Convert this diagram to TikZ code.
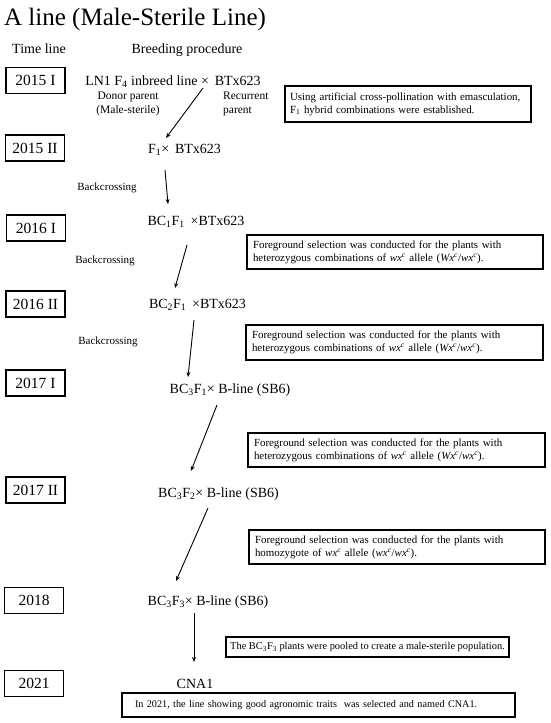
\documentclass[tikz,border=0pt]{standalone}
\usepackage{fontspec}
\setmainfont{Liberation Serif}
\usetikzlibrary{arrows.meta}
\begin{document}
\begin{tikzpicture}[x=1pt,y=-1pt,
  yearbox/.style={draw,line width=1.1pt,minimum width=59pt,minimum height=26pt,inner sep=0pt,font=\fontsize{15.5}{18}\selectfont},
  maintext/.style={anchor=base,inner sep=0pt,font=\fontsize{14}{16}\selectfont},
  smalllabel/.style={inner sep=0pt,font=\fontsize{11.5}{13.5}\selectfont},
  bclabel/.style={anchor=base,inner sep=0pt,font=\fontsize{11}{13}\selectfont},
  notebox/.style={draw,line width=1.8pt,align=left,inner ysep=2pt,font=\fontsize{10.9}{13}\selectfont},
  flow/.style={line width=0.9pt,-{Stealth[length=5pt,width=4pt]}}]
\useasboundingbox (0,0) rectangle (550,723);

% title and headings
\node[anchor=base west,inner sep=0pt,font=\fontsize{25}{28}\selectfont] (title) at (4,25) {A line (Male-Sterile Line)};
\node[maintext] (tl) at (39,53) {Time line};
\node[maintext] (bp) at (187,53) {Breeding procedure};

% year boxes
\node[yearbox] (y1) at (35.5,80.5) {2015 I};
\node[yearbox] (y2) at (35,148) {2015 II};
\node[yearbox] (y3) at (36,228) {2016 I};
\node[yearbox] (y4) at (35.5,304) {2016 II};
\node[yearbox] (y5) at (35.5,383) {2017 I};
\node[yearbox] (y6) at (35.5,490) {2017 II};
\node[yearbox] (y7) at (34,600.5) {2018};
\node[yearbox] (y8) at (34,683.5) {2021};

% breeding steps
\node[maintext] (s0) at (173,85) {LN1 F\textsubscript{4} inbreed line × \,BTx623};
\node[smalllabel,align=center] (donor) at (128,104) {Donor parent\\(Male-sterile)};
\node[smalllabel,align=left,anchor=west] (recur) at (223,104) {Recurrent\\parent};
\node[maintext] (s1) at (184.5,153) {F\textsubscript{1}× \,BTx623};
\node[maintext] (s2) at (196,225) {BC\textsubscript{1}F\textsubscript{1} \,×BTx623};
\node[maintext] (s3) at (197.5,308) {BC\textsubscript{2}F\textsubscript{1} \,×BTx623};
\node[maintext] (s4) at (230,393) {BC\textsubscript{3}F\textsubscript{1}× B-line (SB6)};
\node[maintext] (s5) at (218.5,497) {BC\textsubscript{3}F\textsubscript{2}× B-line (SB6)};
\node[maintext] (s6) at (208,605) {BC\textsubscript{3}F\textsubscript{3}× B-line (SB6)};
\node[maintext] (s7) at (195,688) {CNA1};

\node[bclabel] (bc1) at (107,190) {Backcrossing};
\node[bclabel] (bc2) at (105,263) {Backcrossing};
\node[bclabel] (bc3) at (108,344) {Backcrossing};

% arrow end points
\coordinate (a1s) at (203,88);  \coordinate (a1e) at (166,138);
\coordinate (a2s) at (165,170); \coordinate (a2e) at (168,204);
\coordinate (a3s) at (187,245); \coordinate (a3e) at (175,288);
\coordinate (a4s) at (194,320); \coordinate (a4e) at (188,377);
\coordinate (a5s) at (217,405); \coordinate (a5e) at (191,471);
\coordinate (a6s) at (208,508); \coordinate (a6e) at (176,581);
\coordinate (a7s) at (194,613); \coordinate (a7e) at (194,662);
\draw[flow] (a1s) -- (a1e);
\draw[flow] (a2s) -- (a2e);
\draw[flow] (a3s) -- (a3e);
\draw[flow] (a4s) -- (a4e);
\draw[flow] (a5s) -- (a5e);
\draw[flow] (a6s) -- (a6e);
\draw[flow] (a7s) -- (a7e);

% note boxes
\node[notebox,inner xsep=5pt,text width=236pt,minimum height=36pt] (n1) at (408,104)
  {Using artificial cross-pollination with emasculation,\\F\textsubscript{1} hybrid combinations were established.};
\node[notebox,inner xsep=6pt,text width=284pt,minimum height=34pt] (n2) at (395,252)
  {Foreground selection was conducted for the plants with\\heterozygous combinations of \textit{wx\textsuperscript{c}} allele (\textit{Wx\textsuperscript{c}}/\textit{wx\textsuperscript{c}}).};
\node[notebox,inner xsep=6pt,text width=285pt,minimum height=35pt] (n3) at (394.5,342.5)
  {Foreground selection was conducted for the plants with\\heterozygous combinations of \textit{wx\textsuperscript{c}} allele (\textit{Wx\textsuperscript{c}}/\textit{wx\textsuperscript{c}}).};
\node[notebox,inner xsep=6pt,text width=285pt,minimum height=34pt] (n4) at (396.5,450)
  {Foreground selection was conducted for the plants with\\heterozygous combinations of \textit{wx\textsuperscript{c}} allele (\textit{Wx\textsuperscript{c}}/\textit{wx\textsuperscript{c}}).};
\node[notebox,inner xsep=6pt,text width=284pt,minimum height=34pt] (n5) at (397,547)
  {Foreground selection was conducted for the plants with\\homozygote of \textit{wx\textsuperscript{c}} allele (\textit{wx\textsuperscript{c}}/\textit{wx\textsuperscript{c}}).};
\node[notebox,inner xsep=2pt,minimum width=283pt,minimum height=20pt,font=\fontsize{10.4}{12}\selectfont] (n6) at (367.5,647)
  {The BC\textsubscript{3}F\textsubscript{3} plants were pooled to create a male-sterile population.};
\node[notebox,inner xsep=13pt,text width=367pt,minimum height=24pt,font=\fontsize{10.2}{12}\selectfont] (n7) at (318.5,705)
  {In 2021, the line showing good agronomic traits \ was selected and named CNA1.};
\end{tikzpicture}
\end{document}
